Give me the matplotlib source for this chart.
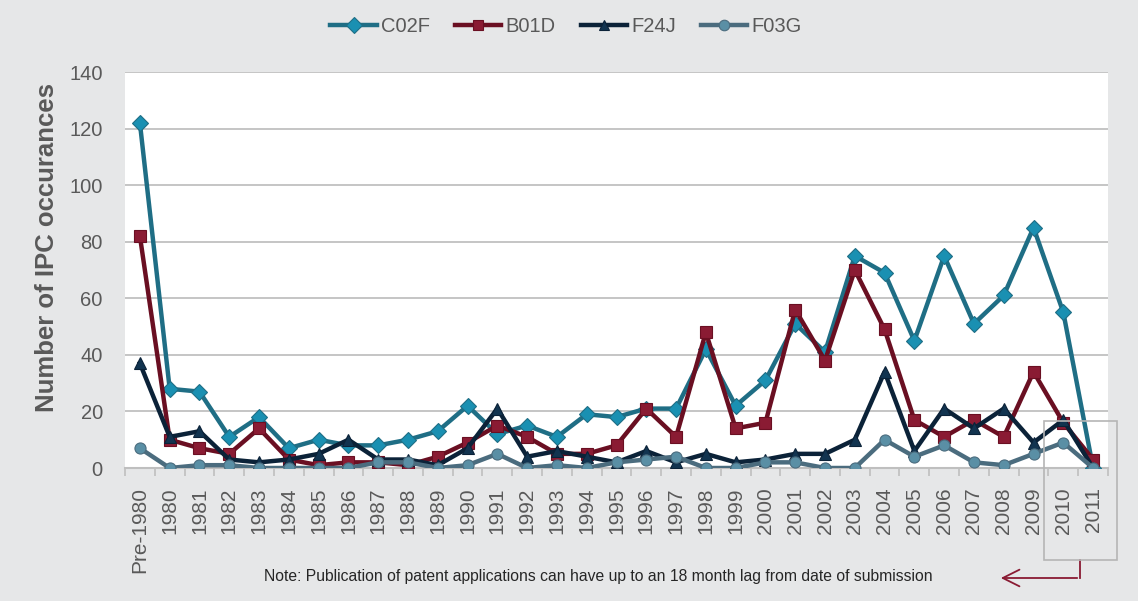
import matplotlib
matplotlib.use("Agg")
import matplotlib.pyplot as plt
from matplotlib.patches import Rectangle, FancyArrowPatch
import numpy as np

plt.rcParams["font.family"] = ["Liberation Sans", "DejaVu Sans"]

categories = ["Pre-1980"] + [str(y) for y in range(1980, 2012)]
c02f = [122, 28, 27, 11, 18, 7, 10, 8, 8, 10, 13, 22, 12, 15, 11, 19, 18, 21, 21, 42, 22, 31, 51, 41, 75, 69, 45, 75, 51, 61, 85, 55, 0]
b01d = [82, 10, 7, 5, 14, 3, 1, 2, 2, 1, 4, 9, 15, 11, 5, 5, 8, 21, 11, 48, 14, 16, 56, 38, 70, 49, 17, 11, 17, 11, 34, 16, 3]
f24j = [37, 11, 13, 3, 2, 3, 5, 10, 3, 3, 1, 7, 21, 4, 6, 4, 2, 6, 2, 5, 2, 3, 5, 5, 10, 34, 6, 21, 14, 21, 9, 17, 0]
f03g = [7, 0, 1, 1, 0, 0, 0, 0, 2, 2, 0, 1, 5, 0, 1, 0, 2, 3, 4, 0, 0, 2, 2, 0, 0, 10, 4, 8, 2, 1, 5, 9, 0]
y_ticks = [0, 20, 40, 60, 80, 100, 120, 140]

W, H = 1138, 601
fig = plt.figure(figsize=(W / 100, H / 100), dpi=100)
fig.patch.set_facecolor("#e6e7e8")
ax = fig.add_axes([125 / W, 1 - 468 / H, (1108 - 125) / W, (468 - 72) / H])
ax.set_facecolor("white")

x = np.arange(len(categories))
series = [
    ("C02F", c02f, "#1f6e85", "#1a90b2", "D", 8.5),
    ("B01D", b01d, "#6a0f22", "#8a1b33", "s", 8),
    ("F24J", f24j, "#0b2238", "#123450", "^", 8),
    ("F03G", f03g, "#4b6c7e", "#5a8fa5", "o", 8),
]
for name, vals, lc, mc, mk, ms in series:
    ax.plot(x, vals, color=lc, lw=3.2, marker=mk, markersize=ms,
            markerfacecolor=mc, markeredgecolor=lc, markeredgewidth=0.8,
            label=name, zorder=3)

ax.set_xlim(-0.5, len(categories) - 0.5)
ax.set_ylim(0, 140)
ax.set_yticks(y_ticks)
ax.set_yticklabels([str(v) for v in y_ticks], fontsize=14.5, color="#595959")
ax.yaxis.grid(True, color="#c0c0c0", lw=1.3)
ax.set_axisbelow(True)
ax.tick_params(axis="y", length=0, pad=16)

ax.set_xticks(x)
ax.set_xticklabels(categories, rotation=90, fontsize=15, color="#595959",
                   ha="center", va="top")
ax.set_xticks(np.arange(-0.5, len(categories), 1), minor=True)
ax.tick_params(axis="x", which="major", length=0, pad=14)
ax.tick_params(axis="x", which="minor", length=6, color="#bfbfbf", width=1.2)

for s in ["top", "right", "left"]:
    ax.spines[s].set_visible(False)
ax.spines["bottom"].set_color("#bfbfbf")
ax.spines["bottom"].set_linewidth(1.5)

fig.text(47 / W, 1 - 247 / H, "Number of IPC occurances", rotation=90,
         ha="center", va="center", fontsize=18.5, fontweight="bold",
         color="#595959")

leg = fig.legend(loc="center", bbox_to_anchor=(566 / W, 1 - 27 / H), ncol=4,
                 frameon=False, fontsize=14.5, handlelength=2.3,
                 columnspacing=1.25, handletextpad=0.2, markerscale=0.95)
for t in leg.get_texts():
    t.set_color("#595959")

fig.text(598 / W, 1 - 576 / H,
         "Note: Publication of patent applications can have up to an 18 month lag from date of submission",
         ha="center", va="center", fontsize=11.3, color="#262626")

# highlight box around 2010-2011
fig.patches.append(Rectangle((1044 / W, 1 - 560 / H), 73 / W, 139 / H,
                             transform=fig.transFigure, fill=False,
                             edgecolor="#b5b5b5", lw=1.2, zorder=5))
# arrow
fig.lines.append(plt.Line2D([1080 / W, 1080 / W], [1 - 560 / H, 1 - 578 / H],
                            transform=fig.transFigure, color="#8a1b33", lw=1.3))
fig.add_artist(FancyArrowPatch(
    (1080 / W, 1 - 578 / H), (998 / W, 1 - 578 / H),
    transform=fig.transFigure, arrowstyle="->,head_length=12,head_width=6",
    color="#8a1b33", lw=1.3, mutation_scale=1))

fig.savefig("out.png", dpi=100, facecolor=fig.get_facecolor())
